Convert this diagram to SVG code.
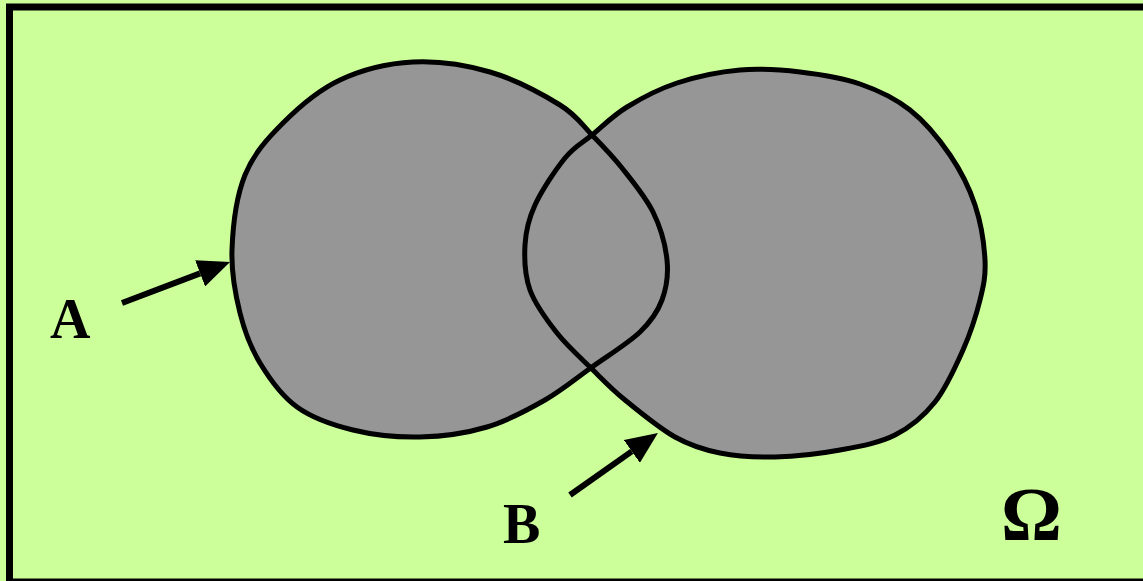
<svg xmlns="http://www.w3.org/2000/svg" width="1143" height="581" viewBox="0 0 1143 581">
<style>
.bg{fill:#ccff99}
.frame{fill:#ccff99;stroke:#000;stroke-width:7}
.fill{fill:#969696;stroke:none}
.outline{fill:none;stroke:#000;stroke-width:5;stroke-linejoin:round}
.arrow{fill:none;stroke:#000;stroke-width:6;marker-end:url(#head)}
.lbl{font-family:"Liberation Serif","Times New Roman",serif;font-weight:bold;fill:#000}
</style>
<defs>
<marker id="head" viewBox="0 0 32 28" refX="0" refY="14" markerWidth="32" markerHeight="28" markerUnits="userSpaceOnUse" orient="auto">
<path d="M0,0 L32,14 L0,28 Z" fill="#000"/>
</marker>
<path id="shapeA" d="M232,250 C232.8,227 236.5,196.2 245,175 C253.5,153.8 267.2,138.8 283,123 C298.8,107.2 318.3,90.2 340,80 C361.7,69.8 388,63.3 413,62 C438,60.7 465.5,64.8 490,72 C514.5,79.2 543,94.5 560,105 C577,115.5 581.7,124.5 592,135 C602.3,145.5 611.8,155.2 622,168 C632.2,180.8 645.5,196.7 653,212 C660.5,227.3 665.5,245.3 667,260 C668.5,274.7 666.5,288 662,300 C657.5,312 651.7,320.8 640,332 C628.3,343.2 607.8,355.7 592,367 C576.2,378.3 562.5,390 545,400 C527.5,410 507.8,420.8 487,427 C466.2,433.2 442.3,436.5 420,437 C397.7,437.5 373.5,435 353,430 C332.5,425 312.5,418.2 297,407 C281.5,395.8 269.5,378.7 260,363 C250.5,347.3 244.7,331.8 240,313 C235.3,294.2 231.2,273 232,250 Z"/>
<path id="shapeB" d="M592,135 C602.3,126.5 612.8,115.7 627,107 C641.2,98.3 658.2,89.2 677,83 C695.8,76.8 719.5,71.8 740,70 C760.5,68.2 780,69.7 800,72 C820,74.3 841.7,77.7 860,84 C878.3,90.3 895,98.2 910,110 C925,121.8 939.2,139.2 950,155 C960.8,170.8 969.2,187.5 975,205 C980.8,222.5 984.2,244.2 985,260 C985.8,275.8 983.7,285 980,300 C976.3,315 970.5,333 963,350 C955.5,367 946.3,387.8 935,402 C923.7,416.2 910.8,427 895,435 C879.2,443 860,446.3 840,450 C820,453.7 795,456.5 775,457 C755,457.5 736.7,456.3 720,453 C703.3,449.7 690.8,445.8 675,437 C659.2,428.2 638.7,411.2 625,400 C611.3,388.8 604.3,381.2 593,370 C581.7,358.8 567.5,346.3 557,333 C546.5,319.7 535.3,304.7 530,290 C524.7,275.3 524.2,259.2 525,245 C525.8,230.8 528.3,219.5 535,205 C541.7,190.5 555.5,169.7 565,158 C574.5,146.3 581.7,143.5 592,135 Z"/>
</defs>
<rect class="bg" x="0" y="0" width="1143" height="581"/>
<rect class="frame" x="9.5" y="7" width="1140" height="575"/>
<g id="fills">
<use href="#shapeA" class="fill"/>
<use href="#shapeB" class="fill"/>
</g>
<g id="setA">
<use href="#shapeA" class="outline"/>
<text class="lbl" x="50" y="338" font-size="56">A</text>
</g>
<g id="setB">
<use href="#shapeB" class="outline"/>
<text class="lbl" x="503" y="543" font-size="56">B</text>
</g>
<g id="omega">
<text class="lbl" x="1001" y="540" font-size="76">Ω</text>
</g>
<g id="connectors">
<line class="arrow" x1="122" y1="303" x2="200.1" y2="273.4"/>
<line class="arrow" x1="570" y1="495" x2="631.8" y2="451.4"/>
</g>
</svg>
